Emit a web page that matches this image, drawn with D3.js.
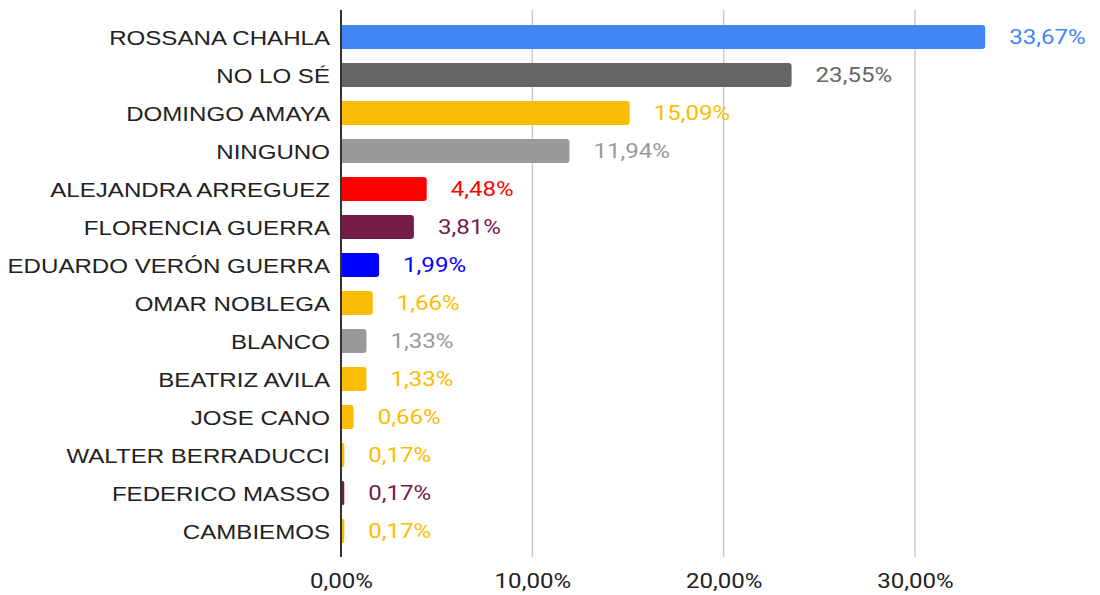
<!DOCTYPE html>
<html>
<head>
<meta charset="utf-8">
<script src="https://cdn.jsdelivr.net/npm/d3@7/dist/d3.min.js"></script>
<style>
  html, body { margin: 0; padding: 0; background: #fff; }
  svg { display: block; }
</style>
</head>
<body>
<svg id="chart" width="1100" height="595"></svg>
<script>
// Candidates, vote share (%) and bar colours
const categories = [
  "ROSSANA CHAHLA", "NO LO SÉ", "DOMINGO AMAYA", "NINGUNO",
  "ALEJANDRA ARREGUEZ", "FLORENCIA GUERRA", "EDUARDO VERÓN GUERRA",
  "OMAR NOBLEGA", "BLANCO", "BEATRIZ AVILA", "JOSE CANO",
  "WALTER BERRADUCCI", "FEDERICO MASSO", "CAMBIEMOS"
];
const values = [33.67, 23.55, 15.09, 11.94, 4.48, 3.81, 1.99, 1.66, 1.33, 1.33, 0.66, 0.17, 0.17, 0.17];
const colors = [
  "#4285f4", "#666666", "#fbbc04", "#999999", "#ff0000", "#741b47", "#0000ff",
  "#fbbc04", "#999999", "#fbbc04", "#fbbc04", "#fbbc04", "#741b47", "#fbbc04"
];
const ticks = [0, 10, 20, 30];

const fmt = v => v.toFixed(2).replace(".", ",") + "%";

// text is drawn slightly wide
const stretch = 1.175;

const svg = d3.select("#chart");
const plotLeft = 341, plotTop = 18, plotBottom = 557;

const x = d3.scaleLinear().domain([0, 30]).range([plotLeft, 915]);
const y = d3.scaleBand().domain(categories)
  .range([plotTop, plotTop + 38 * categories.length])
  .paddingInner(0.368).paddingOuter(0.184);

// vertical gridlines
svg.append("g").selectAll("line").data(ticks.filter(t => t > 0)).join("line")
  .attr("x1", d => x(d)).attr("x2", d => x(d))
  .attr("y1", 10).attr("y2", plotBottom)
  .attr("stroke", "#cccccc").attr("stroke-width", 1.5);

// bars with rounded right end
svg.append("g").selectAll("path").data(values).join("path")
  .attr("fill", (d, i) => colors[i])
  .attr("d", (d, i) => {
    const x0 = x(0), x1 = x(d), y0 = y(categories[i]), h = y.bandwidth();
    const r = Math.min(3, (x1 - x0) / 2);
    return `M${x0},${y0}H${x1 - r}Q${x1},${y0} ${x1},${y0 + r}V${y0 + h - r}Q${x1},${y0 + h} ${x1 - r},${y0 + h}H${x0}Z`;
  });

// value labels
svg.append("g").selectAll("text").data(values).join("text")
  .attr("transform", (d, i) =>
    `translate(${x(d) + 24},${y(categories[i]) + y.bandwidth() / 2}) scale(${stretch},1)`)
  .attr("dy", "0.35em")
  .attr("fill", (d, i) => colors[i])
  .style("font", "20.5px Roboto")
  .text(fmt);

// category labels
svg.append("g").selectAll("text").data(categories).join("text")
  .attr("transform", d => `translate(330,${y(d) + y.bandwidth() / 2 + 0.5}) scale(${stretch},1)`)
  .attr("dy", "0.35em")
  .attr("text-anchor", "end")
  .attr("fill", "#222")
  .style("font", "20.5px 'Liberation Sans', Arial, sans-serif")
  .text(d => d);

// x-axis tick labels
const xAxis = d3.axisBottom(x).tickValues(ticks).tickSize(0).tickFormat(fmt);
const ax = svg.append("g").attr("transform", `translate(0,${plotBottom + 13})`).call(xAxis);
ax.select(".domain").remove();
ax.selectAll("text")
  .attr("fill", "#222")
  .attr("transform", `scale(${stretch},1)`)
  .style("font", "20.5px Roboto");

// baseline
svg.append("line")
  .attr("x1", plotLeft).attr("x2", plotLeft).attr("y1", 10).attr("y2", plotBottom)
  .attr("stroke", "#333").attr("stroke-width", 2);
</script>
</body>
</html>
